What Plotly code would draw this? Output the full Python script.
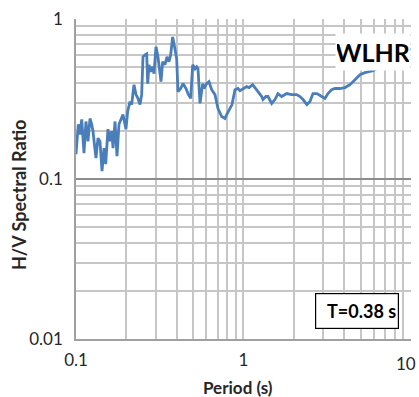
import plotly.graph_objects as go

# Period (s)
period = [0.1000, 0.1032, 0.1056, 0.1082, 0.1116, 0.1147, 0.1179, 0.1212, 0.1241, 0.1263,
          0.1316, 0.1353, 0.1391, 0.1430, 0.1470, 0.1504, 0.1552, 0.1596, 0.1634, 0.1664,
          0.1710, 0.1757, 0.1806, 0.1875, 0.1908, 0.1988, 0.2035, 0.2101, 0.2150, 0.2220,
          0.2282, 0.2345, 0.2411, 0.2467, 0.2512, 0.2582, 0.2643, 0.2680, 0.2728, 0.2793,
          0.2870, 0.2922, 0.3003, 0.3087, 0.3217, 0.3293, 0.3399, 0.3493, 0.3591, 0.3676,
          0.3778, 0.3899, 0.3992, 0.4064, 0.4218, 0.4353, 0.4537, 0.4664, 0.4840, 0.4975,
          0.5135, 0.5257, 0.5352, 0.5501, 0.5708, 0.5811, 0.6031, 0.6225, 0.6460, 0.6761,
          0.7045, 0.7413, 0.7757, 0.7940, 0.8307, 0.8539, 0.8898, 0.9273, 0.9531, 0.9932,
          1.045, 1.079, 1.135, 1.171, 1.221, 1.284, 1.307, 1.362, 1.401, 1.474,
          1.542, 1.607, 1.691, 1.811, 1.940, 2.078, 2.175, 2.267, 2.393, 2.495,
          2.600, 2.747, 2.931, 3.067, 3.196, 3.363, 3.519, 3.769, 4.036, 4.324,
          4.632, 4.961, 5.315, 5.692, 5.932, 6.531, 7.494, 8.60, 9.95]

# H/V spectral ratio
hv_ratio = [0.143, 0.220, 0.190, 0.236, 0.145, 0.229, 0.172, 0.239, 0.220, 0.199,
            0.135, 0.180, 0.172, 0.112, 0.156, 0.124, 0.205, 0.172, 0.199, 0.156,
            0.229, 0.139, 0.220, 0.239, 0.253, 0.205, 0.265, 0.305, 0.292, 0.389,
            0.337, 0.319, 0.292, 0.337, 0.581, 0.598, 0.606, 0.395, 0.518, 0.469,
            0.503, 0.455, 0.670, 0.581, 0.406, 0.541, 0.518, 0.581, 0.541, 0.598,
            0.773, 0.651, 0.564, 0.352, 0.368, 0.395, 0.368, 0.342, 0.319, 0.518,
            0.489, 0.503, 0.489, 0.297, 0.395, 0.368, 0.395, 0.406, 0.362, 0.337,
            0.276, 0.246, 0.239, 0.253, 0.276, 0.292, 0.362, 0.368, 0.357, 0.368,
            0.378, 0.373, 0.389, 0.373, 0.352, 0.328, 0.314, 0.328, 0.328, 0.297,
            0.314, 0.342, 0.328, 0.342, 0.337, 0.337, 0.328, 0.314, 0.292, 0.305,
            0.342, 0.342, 0.328, 0.319, 0.342, 0.362, 0.368, 0.368, 0.373, 0.389,
            0.418, 0.449, 0.462, 0.469, 0.475, 0.503, 0.541, 0.581, 0.655]

x_ticks = [0.1, 1, 10]
x_tick_text = ["0.1", "1", "10"]
y_ticks = [0.01, 0.1, 1]
y_tick_text = ["0.01", "0.1", "1"]

station = "WLHR"
period_label = "T=0.38 s"

FONT = "Lato"
minor_grid = "#c6c6c6"
tick_color = "#262626"

fig = go.Figure()
fig.add_trace(go.Scatter(
    x=period, y=hv_ratio, mode="lines",
    line=dict(color="#4a7ebb", width=2.8),
    showlegend=False, hoverinfo="skip",
))

# the last x tick label sits on the figure edge; draw it as an annotation so it stays fully visible
shown_x_text = x_tick_text[:-1] + [""]

annotations = [
    dict(text=x_tick_text[-1], xref="x", yref="paper",
         x=1, y=0, yshift=-24, xshift=7, xanchor="right", yanchor="middle",
         showarrow=False, font=dict(family=FONT, size=17, color=tick_color)),
    dict(text="<b>Period (s)</b>", xref="paper", yref="paper",
         x=0.484, y=-0.152, xanchor="center", yanchor="middle",
         showarrow=False, font=dict(family=FONT, size=17, color=tick_color)),
    dict(text="<b>H/V Spectral Ratio</b>", xref="paper", yref="paper",
         x=-0.170, y=0.45, xanchor="center", yanchor="middle", textangle=-90,
         showarrow=False, font=dict(family=FONT, size=18, color=tick_color)),
    dict(text="<b>" + station + "</b>", xref="paper", yref="paper",
         x=0.887, y=0.8975, xanchor="center", yanchor="middle",
         showarrow=False, bgcolor="white", width=72, height=34, borderpad=1,
         font=dict(family=FONT, size=25, color="#000000")),
    dict(text="<b>" + period_label + "</b>", xref="paper", yref="paper",
         x=0.838, y=0.086, xanchor="center", yanchor="middle",
         showarrow=False, bgcolor="white", bordercolor="#000000", borderwidth=1.2,
         width=78, height=30, borderpad=2, align="right",
         font=dict(family=FONT, size=18, color="#000000")),
]

fig.update_layout(
    width=419, height=397,
    margin=dict(l=76, r=8, t=17, b=58),
    paper_bgcolor="white", plot_bgcolor="white",
    font=dict(family=FONT, size=17, color=tick_color),
    xaxis=dict(
        type="log", range=[-1, 1.0004],
        tickvals=x_ticks, ticktext=shown_x_text,
        showgrid=True, gridcolor=minor_grid, gridwidth=1.5,
        minor=dict(dtick="D1", showgrid=True, gridcolor=minor_grid, gridwidth=1.5),
        showline=True, linecolor="#a0a0a0", linewidth=1.5, mirror=False,
        ticks="", ticklabelstandoff=5, zeroline=False,
        tickfont=dict(family=FONT, size=17, color=tick_color),
    ),
    yaxis=dict(
        type="log", range=[-2, 0.0004],
        tickvals=y_ticks, ticktext=y_tick_text,
        showgrid=True, gridcolor="#8c8c8c", gridwidth=1.5,
        minor=dict(dtick="D1", showgrid=True, gridcolor=minor_grid, gridwidth=1.5),
        showline=True, linecolor="#a0a0a0", linewidth=1.5,
        ticks="", ticklabelstandoff=8, zeroline=False,
        tickfont=dict(family=FONT, size=17, color=tick_color),
    ),
    annotations=annotations,
)

fig.write_html("out.html")
